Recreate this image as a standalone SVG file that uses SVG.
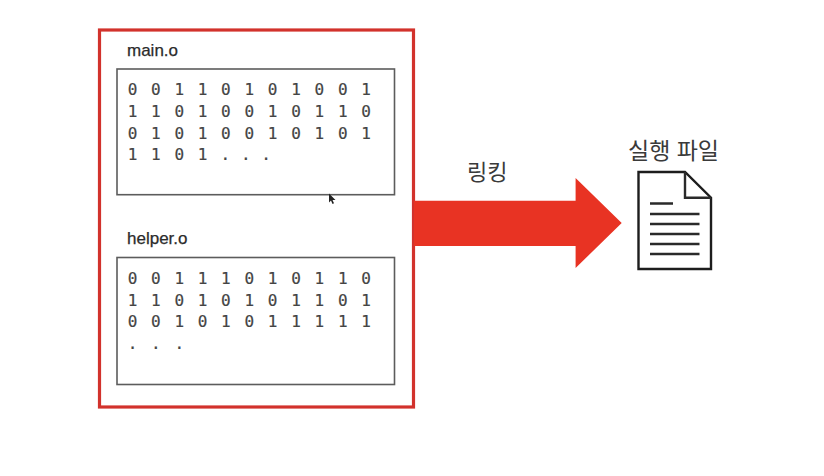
<svg xmlns="http://www.w3.org/2000/svg" width="824" height="476" viewBox="0 0 824 476">
<style>
.lbl{font-family:"Liberation Sans",Arial,sans-serif;font-size:17px;fill:#2b2b2b;stroke:#2b2b2b;stroke-width:0.25px}
.ko{font-family:"Liberation Sans","Noto Sans CJK KR",sans-serif;fill:#3a3a3a}
.bits{font-family:"DejaVu Sans Mono",monospace;font-size:16px;fill:#444;stroke:#444;stroke-width:0.2px;text-anchor:middle}
.box{fill:#fff;stroke:#5c5c5c;stroke-width:1.6}
.line{stroke:#2a2a2a;stroke-width:2.4;fill:none}
</style>
<rect width="824" height="476" fill="#fff"/>
<g id="linked-group"><rect x="99.500" y="30" width="314" height="377" fill="#fff" stroke="#d2322c" stroke-width="3.2"/></g>
<g id="main-o">
<text class="lbl" x="127" y="56">main.o</text>
<rect class="box" x="117" y="69" width="277.500" height="125.700"/>
<text class="bits" y="95"><tspan x="132.500">0</tspan><tspan x="155.900">0</tspan><tspan x="179.200">1</tspan><tspan x="202.600">1</tspan><tspan x="225.900">0</tspan><tspan x="249.300">1</tspan><tspan x="272.600">0</tspan><tspan x="296">1</tspan><tspan x="319.300">0</tspan><tspan x="342.700">0</tspan><tspan x="366">1</tspan></text>
<text class="bits" y="117"><tspan x="132.500">1</tspan><tspan x="155.900">1</tspan><tspan x="179.200">0</tspan><tspan x="202.600">1</tspan><tspan x="225.900">0</tspan><tspan x="249.300">0</tspan><tspan x="272.600">1</tspan><tspan x="296">0</tspan><tspan x="319.300">1</tspan><tspan x="342.700">1</tspan><tspan x="366">0</tspan></text>
<text class="bits" y="139"><tspan x="132.500">0</tspan><tspan x="155.900">1</tspan><tspan x="179.200">0</tspan><tspan x="202.600">1</tspan><tspan x="225.900">0</tspan><tspan x="249.300">0</tspan><tspan x="272.600">1</tspan><tspan x="296">0</tspan><tspan x="319.300">1</tspan><tspan x="342.700">0</tspan><tspan x="366">1</tspan></text>
<text class="bits" y="160"><tspan x="132.500">1</tspan><tspan x="155.900">1</tspan><tspan x="179.200">0</tspan><tspan x="202.600">1</tspan><tspan x="225.300">.</tspan><tspan x="245.700">.</tspan><tspan x="266">.</tspan></text>
</g>
<g id="helper-o">
<text class="lbl" x="127" y="244">helper.o</text>
<rect class="box" x="117" y="257.500" width="277.500" height="127"/>
<text class="bits" y="284"><tspan x="132.500">0</tspan><tspan x="155.900">0</tspan><tspan x="179.200">1</tspan><tspan x="202.600">1</tspan><tspan x="225.900">1</tspan><tspan x="249.300">0</tspan><tspan x="272.600">1</tspan><tspan x="296">0</tspan><tspan x="319.300">1</tspan><tspan x="342.700">1</tspan><tspan x="366">0</tspan></text>
<text class="bits" y="306"><tspan x="132.500">1</tspan><tspan x="155.900">1</tspan><tspan x="179.200">0</tspan><tspan x="202.600">1</tspan><tspan x="225.900">0</tspan><tspan x="249.300">1</tspan><tspan x="272.600">0</tspan><tspan x="296">1</tspan><tspan x="319.300">1</tspan><tspan x="342.700">0</tspan><tspan x="366">1</tspan></text>
<text class="bits" y="327"><tspan x="132.500">0</tspan><tspan x="155.900">0</tspan><tspan x="179.200">1</tspan><tspan x="202.600">0</tspan><tspan x="225.900">1</tspan><tspan x="249.300">0</tspan><tspan x="272.600">1</tspan><tspan x="296">1</tspan><tspan x="319.300">1</tspan><tspan x="342.700">1</tspan><tspan x="366">1</tspan></text>
<text class="bits" y="349"><tspan x="132.500">.</tspan><tspan x="155.900">.</tspan><tspan x="179.200">.</tspan></text>
</g>
<g id="connectors">
<path id="link-arrow" d="M414 200.700H575.600V178L621.700 223L575.600 268V246H414Z" fill="#e83323"/>
<text class="ko" x="467" y="180" font-size="22">링킹</text>
</g>
<g id="executable">
<text class="ko" x="628" y="159" font-size="23">실행 파일</text>
<path d="M638.500 172H685L711 197.700V269H638.500Z" fill="#fff" stroke="#1d1d1d" stroke-width="2.400"/>
<path d="M685 172V197.700H711" class="line"/>
<path d="M650 203.500H673M650 214H699.500M650 224H699.500M650 234H699.500M650 244H699.500M650 254H699.500" class="line"/>
</g>
<path d="M329 193.500v9l2-2 1.500 3.500 1.500-.7-1.500-3.300h3z" fill="#222"/>
</svg>
